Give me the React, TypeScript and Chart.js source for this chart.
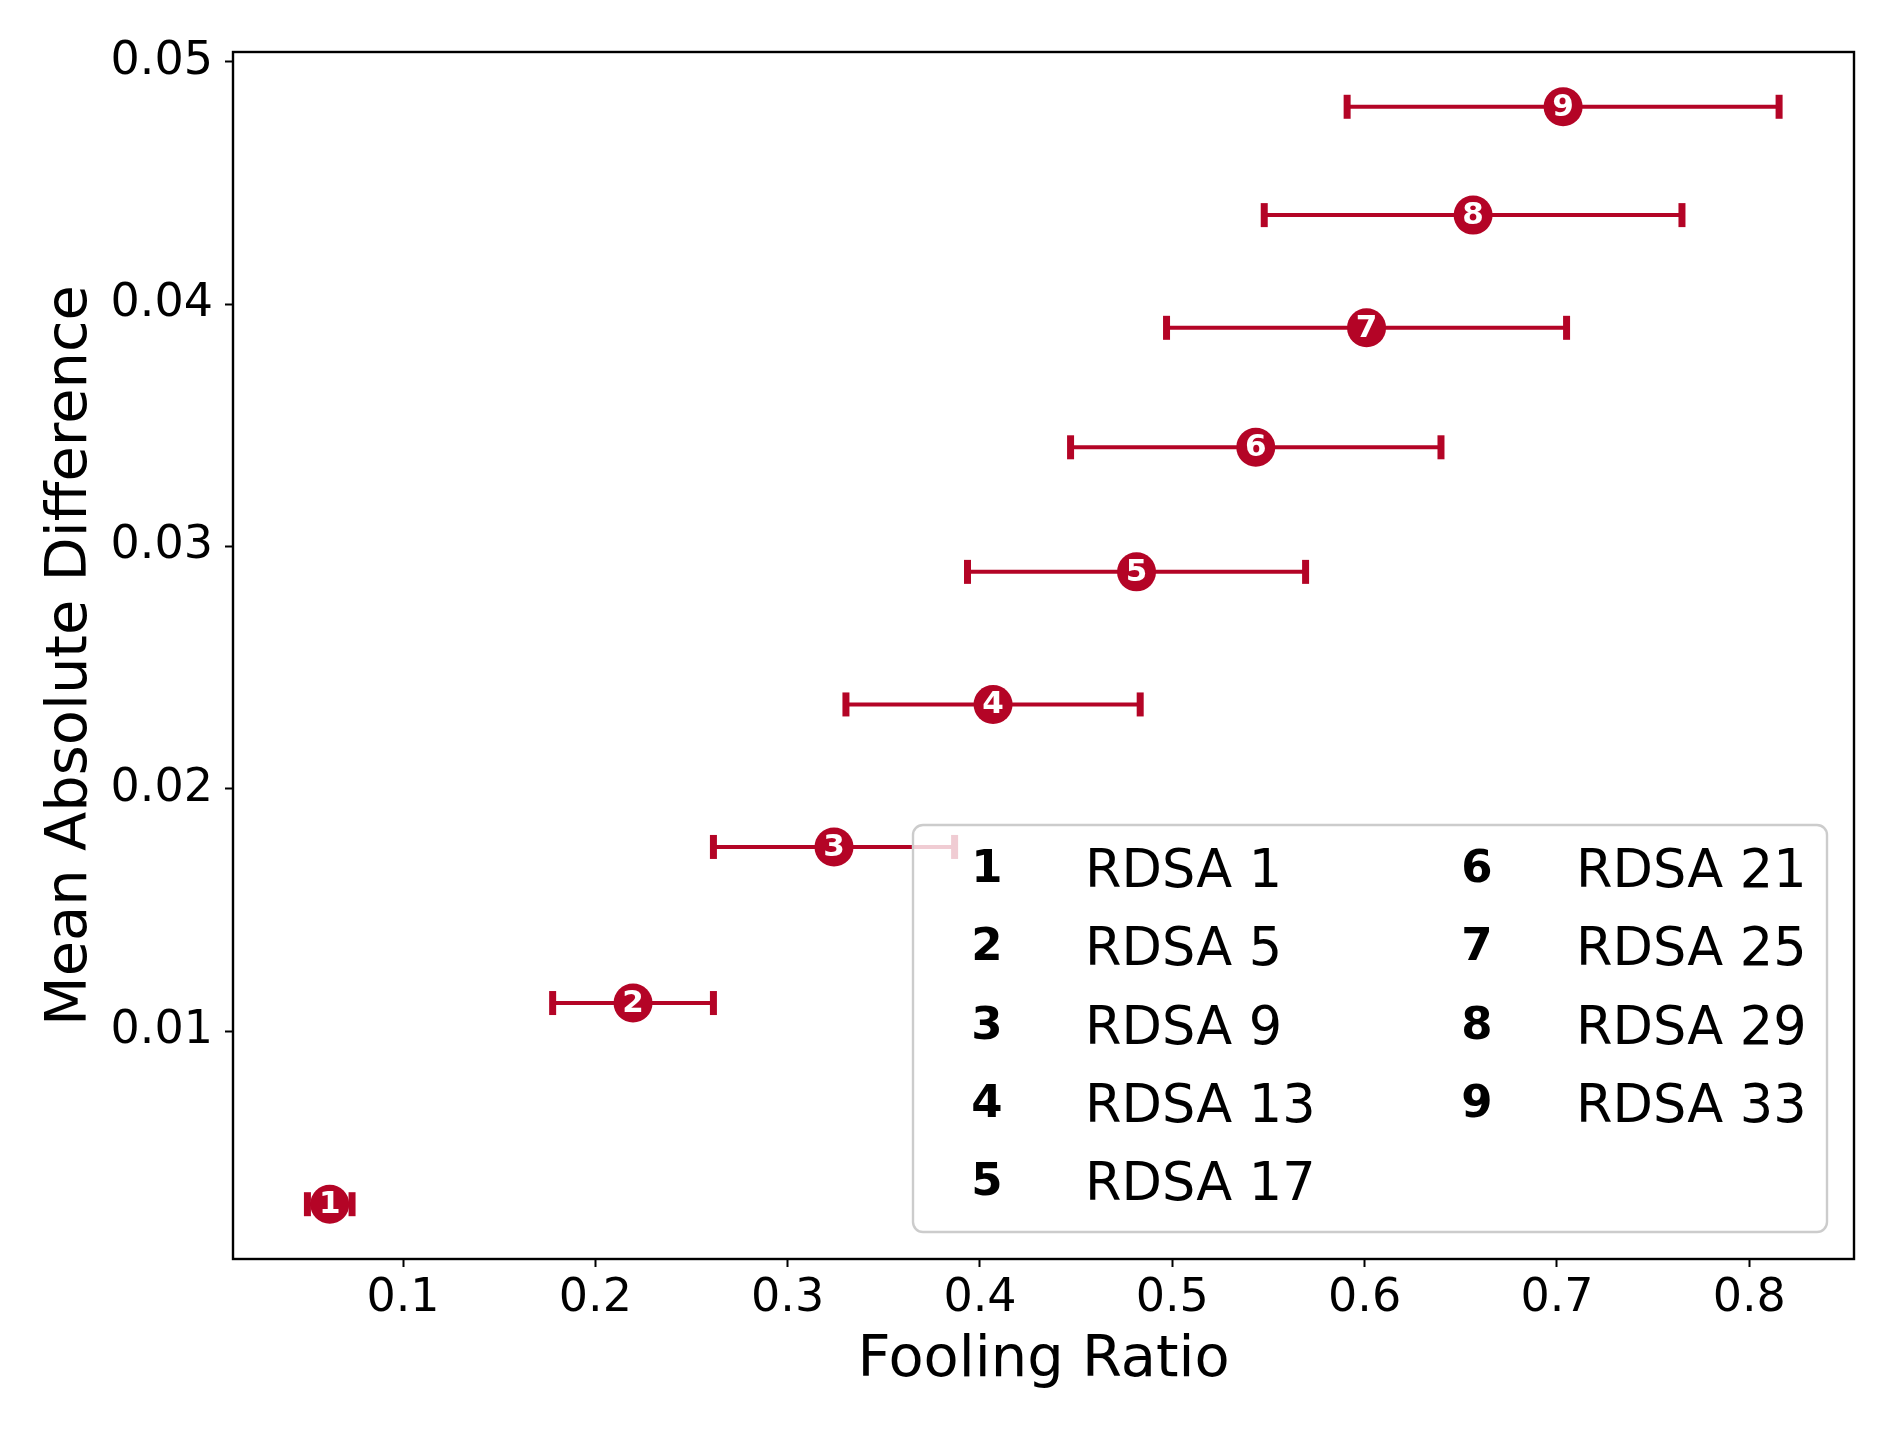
import React, { useEffect, useRef } from 'react';
import { Chart, registerables } from 'chart.js';

Chart.register(...registerables);

// ---- data ----
const markerLabels = ['1', '2', '3', '4', '5', '6', '7', '8', '9'];
const legendLabels = ['RDSA 1', 'RDSA 5', 'RDSA 9', 'RDSA 13', 'RDSA 17', 'RDSA 21', 'RDSA 25', 'RDSA 29', 'RDSA 33'];
const foolingRatio = [0.0619, 0.2196, 0.3241, 0.4068, 0.4814, 0.5434, 0.601, 0.6564, 0.7032];
const foolingRatioErr = [0.0116, 0.0418, 0.0627, 0.0765, 0.0879, 0.0963, 0.104, 0.1086, 0.1123];
const meanAbsDiff = [0.00286, 0.01116, 0.0176, 0.02348, 0.02895, 0.03409, 0.03902, 0.04367, 0.04814];
const xTickValues = [0.1, 0.2, 0.3, 0.4, 0.5, 0.6, 0.7, 0.8];
const xTickLabels = ['0.1', '0.2', '0.3', '0.4', '0.5', '0.6', '0.7', '0.8'];
const yTickValues = [0.01, 0.02, 0.03, 0.04, 0.05];
const yTickLabels = ['0.01', '0.02', '0.03', '0.04', '0.05'];

const RED = '#b40426';
const FONT = "'DejaVu Sans', 'Liberation Sans', sans-serif";
const W = 1897;
const H = 1432;

const errorBarPlugin = {
  id: 'errorBars',
  beforeDatasetsDraw(chart: any) {
    const { ctx, scales } = chart;
    const x = scales.x;
    const y = scales.y;
    ctx.save();
    ctx.strokeStyle = RED;
    ctx.lineCap = 'butt';
    foolingRatio.forEach((v, i) => {
      const py = y.getPixelForValue(meanAbsDiff[i]);
      const x0 = x.getPixelForValue(v - foolingRatioErr[i]);
      const x1 = x.getPixelForValue(v + foolingRatioErr[i]);
      ctx.lineWidth = 4;
      ctx.beginPath();
      ctx.moveTo(x0, py);
      ctx.lineTo(x1, py);
      ctx.stroke();
      ctx.lineWidth = 7;
      [x0, x1].forEach((px) => {
        ctx.beginPath();
        ctx.moveTo(px, py - 12);
        ctx.lineTo(px, py + 12);
        ctx.stroke();
      });
    });
    ctx.restore();
  },
};

const frameAndLabelsPlugin = {
  id: 'frameAndLabels',
  afterDatasetsDraw(chart: any) {
    const { ctx, chartArea, scales } = chart;
    const x = scales.x;
    const y = scales.y;
    ctx.save();
    // marker numbers
    ctx.fillStyle = '#ffffff';
    ctx.font = `bold 31px ${FONT}`;
    ctx.textAlign = 'center';
    ctx.textBaseline = 'middle';
    foolingRatio.forEach((v, i) => {
      const px = x.getPixelForValue(v);
      const py = y.getPixelForValue(meanAbsDiff[i]);
      ctx.fillText(markerLabels[i], px, py + 1);
    });
    // frame
    ctx.strokeStyle = '#000000';
    ctx.lineWidth = 2.4;
    ctx.strokeRect(chartArea.left, chartArea.top, chartArea.right - chartArea.left, chartArea.bottom - chartArea.top);
    ctx.restore();
  },
  afterDraw(chart: any) {
    const { ctx } = chart;
    ctx.save();
    // legend box
    const bx = 913, by = 825, bw = 914, bh = 407, r = 10;
    ctx.beginPath();
    ctx.moveTo(bx + r, by);
    ctx.lineTo(bx + bw - r, by);
    ctx.arcTo(bx + bw, by, bx + bw, by + r, r);
    ctx.lineTo(bx + bw, by + bh - r);
    ctx.arcTo(bx + bw, by + bh, bx + bw - r, by + bh, r);
    ctx.lineTo(bx + r, by + bh);
    ctx.arcTo(bx, by + bh, bx, by + bh - r, r);
    ctx.lineTo(bx, by + r);
    ctx.arcTo(bx, by, bx + r, by, r);
    ctx.closePath();
    ctx.fillStyle = 'rgba(255,255,255,0.8)';
    ctx.fill();
    ctx.strokeStyle = '#cccccc';
    ctx.lineWidth = 2.4;
    ctx.stroke();

    const rowGap = 78.25;
    const colNumX = [987, 1477];
    const colTextX = [1085, 1576];
    legendLabels.forEach((lab, i) => {
      const col = i < 5 ? 0 : 1;
      const row = i < 5 ? i : i - 5;
      ctx.fillStyle = '#000000';
      ctx.textBaseline = 'alphabetic';
      ctx.font = `bold 45px ${FONT}`;
      ctx.textAlign = 'center';
      ctx.fillText(markerLabels[i], colNumX[col], 882 + row * rowGap);
      ctx.font = `52.5px ${FONT}`;
      ctx.textAlign = 'left';
      ctx.fillText(lab, colTextX[col], 887 + row * rowGap);
    });
    ctx.restore();
  },
};

export default function App() {
  const ref = useRef<HTMLCanvasElement | null>(null);

  useEffect(() => {
    if (!ref.current) return;
    const chart = new Chart(ref.current, {
      type: 'scatter',
      data: {
        datasets: [
          {
            label: 'RDSA',
            data: foolingRatio.map((v, i) => ({ x: v, y: meanAbsDiff[i] })),
            pointRadius: 19.5,
            pointHoverRadius: 19.5,
            pointBackgroundColor: RED,
            pointBorderWidth: 0,
            pointBorderColor: RED,
            showLine: false,
          },
        ],
      },
      options: {
        responsive: false,
        devicePixelRatio: 1,
        animation: false,
        events: [],
        layout: { padding: { top: 52, right: 43, left: 0, bottom: 0 } },
        plugins: {
          legend: { display: false },
          tooltip: { enabled: false },
        },
        scales: {
          x: {
            type: 'linear',
            min: 0.0116,
            max: 0.85445,
            afterBuildTicks: (s: any) => {
              s.ticks = xTickValues.map((v) => ({ value: v }));
            },
            afterFit: (s: any) => {
              s.height = 173;
            },
            ticks: {
              color: '#000',
              font: { family: FONT, size: 46 },
              padding: 4,
              maxRotation: 0,
              autoSkip: false,
              callback: (_v: any, i: number) => xTickLabels[i],
            },
            grid: {
              display: true,
              drawOnChartArea: false,
              drawTicks: true,
              tickLength: 8,
              tickWidth: 2,
              tickColor: '#000',
            },
            border: { display: false },
            title: {
              display: true,
              text: 'Fooling Ratio',
              color: '#000',
              font: { family: FONT, size: 57.5 },
              padding: { top: 0, bottom: 36 },
            },
          },
          y: {
            type: 'linear',
            min: 0.000599,
            max: 0.0504,
            afterBuildTicks: (s: any) => {
              s.ticks = yTickValues.map((v) => ({ value: v }));
            },
            afterFit: (s: any) => {
              s.width = 233;
            },
            ticks: {
              color: '#000',
              font: { family: FONT, size: 46 },
              padding: 12,
              autoSkip: false,
              callback: (_v: any, i: number) => yTickLabels[i],
            },
            grid: {
              display: true,
              drawOnChartArea: false,
              drawTicks: true,
              tickLength: 8,
              tickWidth: 2,
              tickColor: '#000',
            },
            border: { display: false },
            title: {
              display: true,
              text: 'Mean Absolute Difference',
              color: '#000',
              font: { family: FONT, size: 57.5 },
              padding: { top: 36.5, bottom: 0 },
            },
          },
        },
      },
      plugins: [errorBarPlugin, frameAndLabelsPlugin],
    } as any);
    return () => chart.destroy();
  }, []);

  return (
    <div style={{ position: 'fixed', left: 0, top: 0, width: W, height: H, background: '#ffffff' }}>
      <canvas ref={ref} width={W} height={H} style={{ width: W, height: H, display: 'block' }} />
    </div>
  );
}
